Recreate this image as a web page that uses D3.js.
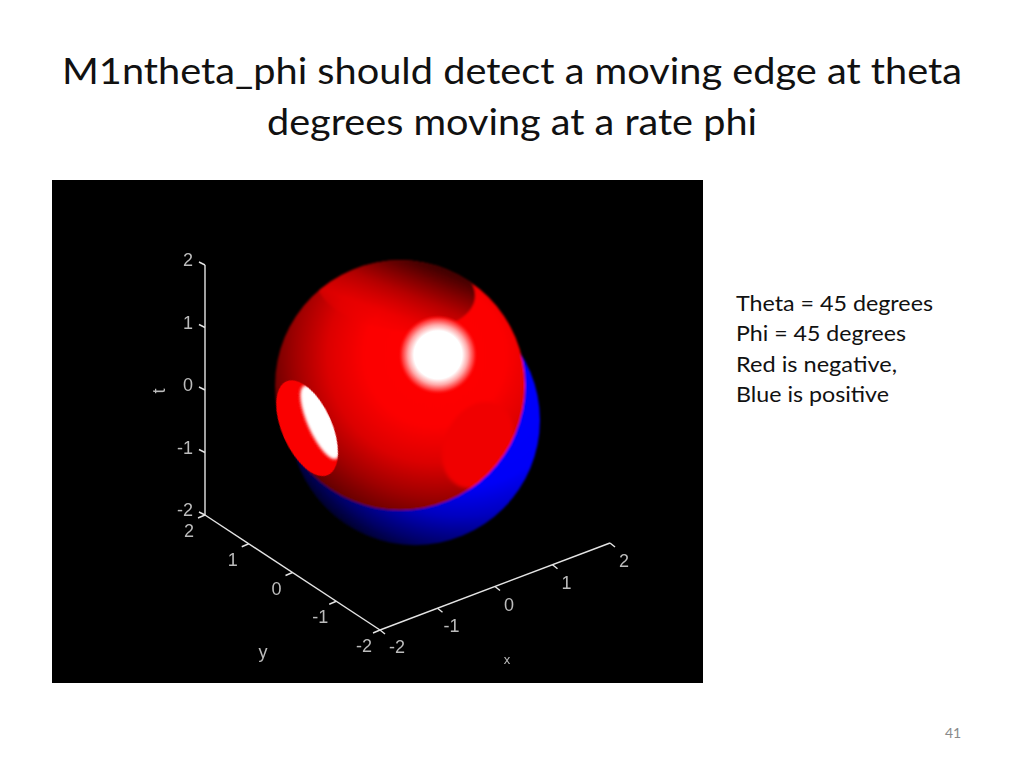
<!DOCTYPE html>
<html><head><meta charset="utf-8">
<style>html,body{margin:0;background:#fff;overflow:hidden}svg{display:block}</style>
<script src="https://cdn.jsdelivr.net/npm/d3@7"></script></head><body>
<script>
const titleLines = ["M1ntheta_phi should detect a moving edge at theta","degrees moving at a rate phi"];
const noteLines = ["Theta = 45 degrees","Phi = 45 degrees","Red is negative,","Blue is positive"];
const pageNumber = "41";
const tickValues = [-2,-1,0,1,2];
const axisNames = {x:"x",y:"y",z:"t"};
const negativeLobeCentre = [0,0.17,0.22];
const positiveLobeCentre = [0,-0.17,-0.18];
const lobeRadius = 2;
const highlightPoint = [0.5,-0.04,0.63];
const leftDimple = [-1,0.98,-0.49];
const rightDimple = [1,-0.297,-0.87];
const topDimple = [0,0.27,1.74];

const svg = d3.select("body").append("svg").attr("width",1024).attr("height",768);
const defs = svg.append("defs");
const font = "Lato, 'Noto Sans', sans-serif";

const title = svg.append("g").attr("font-family",font).attr("font-size",37.5).attr("fill","#111");
[[titleLines[0],512,84,900],[titleLines[1],512,135,490]].forEach(d=>{
  title.append("text").attr("x",d[1]).attr("y",d[2]).attr("text-anchor","middle")
    .attr("textLength",d[3]).attr("lengthAdjust","spacingAndGlyphs").text(d[0]);
});
const noteW=[197,170,161,153], noteY=[311,341,372,402];
svg.append("g").attr("font-family",font).attr("font-size",21.5).attr("fill","#111")
  .selectAll("text").data(noteLines).join("text")
  .attr("x",736).attr("y",(d,i)=>noteY[i]).attr("textLength",(d,i)=>noteW[i])
  .attr("lengthAdjust","spacingAndGlyphs").text(d=>d);
svg.append("text").attr("x",953).attr("y",738).attr("text-anchor","middle")
  .attr("font-family",font).attr("font-size",14).attr("fill","#8a8a8a").text(pageNumber);

svg.append("rect").attr("x",52).attr("y",180).attr("width",651).attr("height",503).attr("fill","#000");

// oblique 3D projection through linear scales
const dom=[-2,2], ox=380, oy=630;
const xX=d3.scaleLinear(dom,[0,230]), xY=d3.scaleLinear(dom,[0,-87]);
const yX=d3.scaleLinear(dom,[0,-175]), yY=d3.scaleLinear(dom,[0,-115]);
const zY=d3.scaleLinear(dom,[0,-250]);
const P=([x,y,z])=>[ox+xX(x)+yX(y), oy+xY(x)+yY(y)+zY(z)];
const R=zY(0)-zY(lobeRadius);

const blur=(id,s)=>defs.append("filter").attr("id",id).attr("x","-30%").attr("y","-30%").attr("width","160%").attr("height","160%")
  .append("feGaussianBlur").attr("stdDeviation",s);
blur("b1",0.9);blur("b2",1.6);blur("b3",0.6);blur("b5",0.75);
const rad=(id,cx,cy,r,stops)=>{const g=defs.append("radialGradient").attr("id",id).attr("cx",cx).attr("cy",cy).attr("r",r);
  stops.forEach(s=>g.append("stop").attr("offset",s[0]).attr("stop-color",s[1]).attr("stop-opacity",s[2]===undefined?1:s[2]));};
rad("redG",0.64,0.38,0.74,[[0,"#ff0000"],[0.38,"#fc0000"],[0.58,"#dc0000"],[0.76,"#a00000"],[0.9,"#6a0000"],[1,"#400000"]]);
rad("blueG",0.68,0.30,0.78,[[0,"#0000ff"],[0.6,"#0000f8"],[0.75,"#0000c0"],[0.9,"#000068"],[1,"#000020"]]);
rad("specG",0.5,0.5,0.5,[[0,"#ffffff"],[0.6,"#ffffff"],[0.75,"#ffa8a8"],[0.9,"#ff3030"],[1,"#ff0000",0]]);
const lin=defs.append("linearGradient").attr("id","topG").attr("x1",0.78).attr("y1",0.1).attr("x2",0.38).attr("y2",1);
[[0,"#200000",1],[0.2,"#5a0000",1],[0.5,"#b00000",0.95],[0.8,"#e80000",0.7],[1,"#f00000",0.15]].forEach(s=>lin.append("stop").attr("offset",s[0]).attr("stop-color",s[1]).attr("stop-opacity",s[2]));

const [rx,ry]=P(negativeLobeCentre), [bx,by]=P(positiveLobeCentre);
defs.append("clipPath").attr("id","sphereClip").append("circle").attr("cx",rx).attr("cy",ry).attr("r",R);

const lobes=svg.append("g").attr("filter","url(#b1)");
lobes.append("circle").attr("cx",bx).attr("cy",by).attr("r",R).attr("fill","url(#blueG)");
lobes.append("circle").attr("cx",rx).attr("cy",ry).attr("r",R).attr("fill","url(#redG)");

const [tx,ty]=P(topDimple);
lobes.append("g").attr("clip-path","url(#sphereClip)").append("ellipse")
  .attr("cx",tx).attr("cy",ty).attr("rx",R*0.64).attr("ry",R*0.34)
  .attr("transform",`rotate(8 ${tx} ${ty})`).attr("fill","url(#topG)").attr("filter","url(#b3)");
const [qx,qy]=P(rightDimple);
lobes.append("g").attr("clip-path","url(#sphereClip)").append("ellipse").attr("cx",qx).attr("cy",qy).attr("rx",R*0.27).attr("ry",R*0.36)
  .attr("transform",`rotate(25 ${qx} ${qy})`).attr("fill","#f00000").attr("filter","url(#b2)");
const [hx,hy]=P(highlightPoint);
svg.append("circle").attr("cx",hx).attr("cy",hy).attr("r",R*0.32).attr("fill","url(#specG)");
const [lx,ly]=P(leftDimple);
const lg=svg.append("g").attr("transform",`translate(${lx},${ly}) rotate(-24)`).attr("filter","url(#b3)");
defs.append("clipPath").attr("id","leftClip").append("ellipse").attr("rx",R*0.2).attr("ry",R*0.41);
lg.append("ellipse").attr("rx",R*0.2).attr("ry",R*0.41).attr("fill","#fa0000");
lg.append("g").attr("clip-path","url(#leftClip)").append("ellipse")
  .attr("cx",R*0.115).attr("cy",R*0.0).attr("rx",R*0.1).attr("ry",R*0.32).attr("fill","#fff").attr("filter","url(#b2)");

// axes
const axes=svg.append("g").attr("filter","url(#b3)").attr("stroke","#e4e4e4").attr("fill","none").attr("stroke-width",1.4);
const lab=svg.append("g").attr("filter","url(#b5)").attr("fill","#bcbcbc").attr("font-family","'Liberation Sans',sans-serif").attr("font-size",18).attr("text-anchor","middle");
const line=d3.line();
axes.append("path").attr("d",line([P([-2,2,-2]),P([-2,2,2])]));
axes.append("path").attr("d",line([P([-2,-2,-2]),P([-2,2,-2])]));
axes.append("path").attr("d",line([P([-2,-2,-2]),P([2,-2,-2])]));
tickValues.forEach(v=>{
  const pz=P([-2,2,v]), py=P([-2,v,-2]), px=P([v,-2,-2]);
  axes.append("path").attr("d",line([pz,[pz[0]-6,pz[1]-3]]));
  axes.append("path").attr("d",line([py,[py[0]-7,py[1]+3]]));
  axes.append("path").attr("d",line([px,[px[0]+5,px[1]+4]]));
  lab.append("text").attr("x",pz[0]-(v<0?20:17)).attr("y",pz[1]+1).text(v);
  lab.append("text").attr("x",py[0]-16).attr("y",py[1]+22).text(v);
  lab.append("text").attr("x",px[0]+(v===-2?17:14)).attr("y",px[1]+(v===-2?23:24)).text(v);
});
lab.append("text").attr("transform","translate(165,391) rotate(-90)").text(axisNames.z);
lab.append("text").attr("x",263).attr("y",658).text(axisNames.y);
lab.append("text").attr("x",507).attr("y",664).attr("font-size",13).text(axisNames.x);
</script></body></html>
